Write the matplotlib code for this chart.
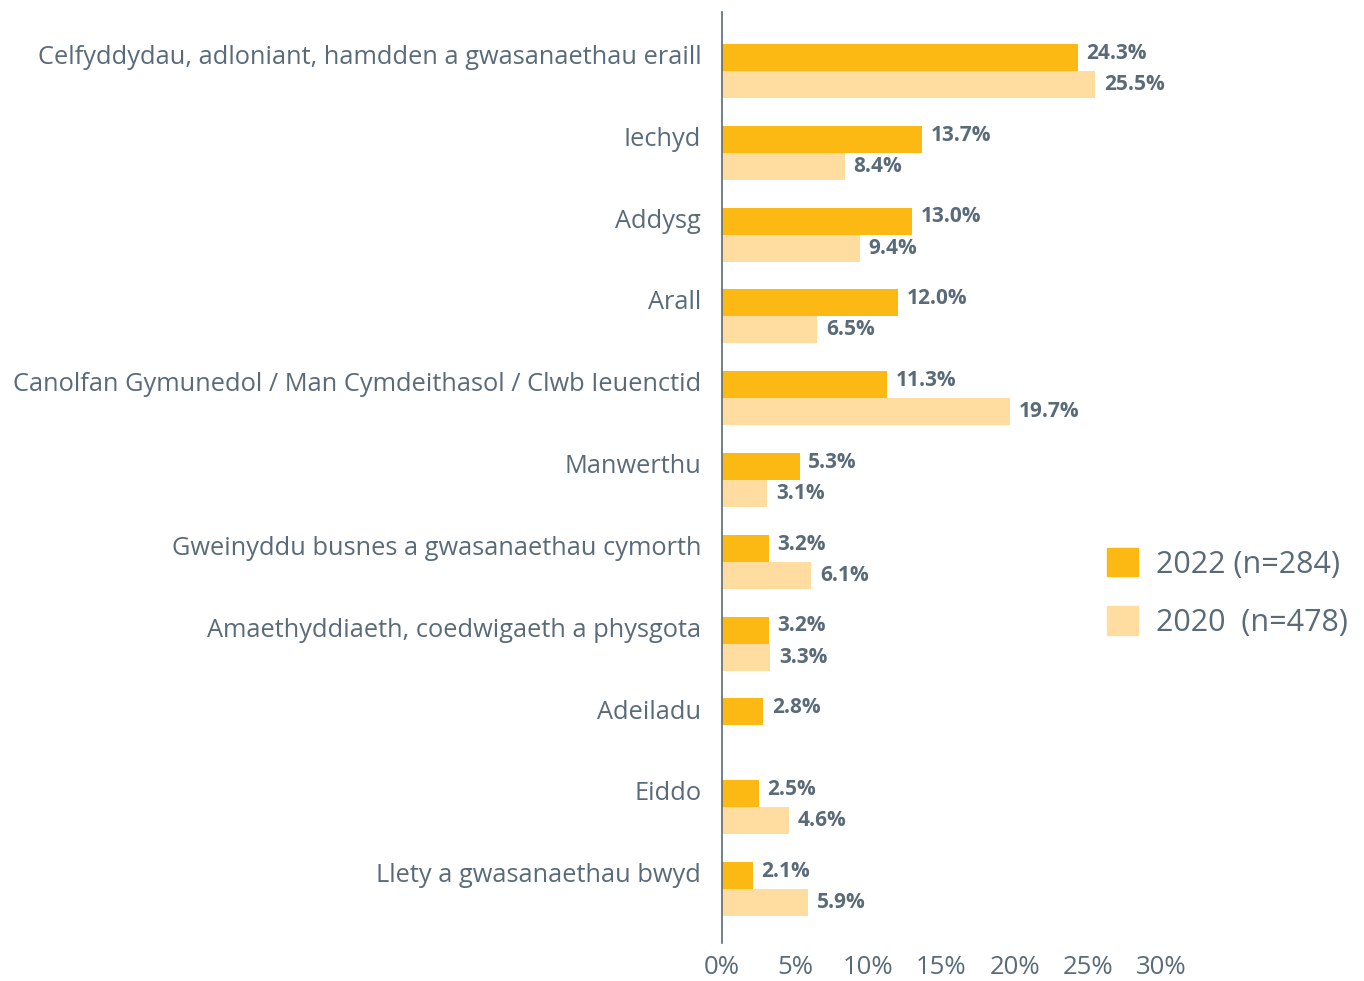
#!/usr/bin/env python3

import numpy as np
import matplotlib.pyplot as plt
from matplotlib.patches import Patch

# ----------------------------------------------------------
# data
# ----------------------------------------------------------
categories = [
    "Celfyddydau, adloniant, hamdden a gwasanaethau eraill",
    "Iechyd",
    "Addysg",
    "Arall",
    "Canolfan Gymunedol / Man Cymdeithasol / Clwb Ieuenctid",
    "Manwerthu",
    "Gweinyddu busnes a gwasanaethau cymorth",
    "Amaethyddiaeth, coedwigaeth a physgota",
    "Adeiladu",
    "Eiddo",
    "Llety a gwasanaethau bwyd",
]
vals_2022 = [24.3, 13.7, 13.0, 12.0, 11.3, 5.3, 3.2, 3.2, 2.8, 2.5, 2.1]
vals_2020 = [25.5, 8.4, 9.4, 6.5, 19.7, 3.1, 6.1, 3.3, None, 4.6, 5.9]
series_names = ["2022 (n=284)", "2020  (n=478)"]
xticks = [0, 5, 10, 15, 20, 25, 30]

C_2022 = "#FDB913"
C_2020 = "#FFDDA0"
TXT = "#596B78"

plt.rcParams["font.family"] = ["Open Sans", "DejaVu Sans"]

fig = plt.figure(figsize=(13.64, 9.81), dpi=100)
ax = fig.add_axes([722 / 1364, 1 - 943 / 981, (1161 - 722) / 1364, (943 - 12) / 981])

y = np.arange(len(categories))
h = 0.33

for i in range(len(categories)):
    v1 = vals_2022[i]
    ax.barh(y[i] - h / 2, v1, height=h, color=C_2022)
    ax.text(v1 + 0.6, y[i] - h / 2 - 0.05, f"{v1:.1f}%", va="center", ha="left",
            fontsize=15, fontweight="bold", color=TXT)
    v2 = vals_2020[i]
    if v2 is not None:
        ax.barh(y[i] + h / 2, v2, height=h, color=C_2020)
        ax.text(v2 + 0.6, y[i] + h / 2, f"{v2:.1f}%", va="center", ha="left",
                fontsize=15, fontweight="bold", color=TXT)

ax.set_xlim(0, 30)
ax.set_ylim(10.66, -0.72)

ax.set_yticks(y - 0.2)
ax.set_yticklabels(categories, fontsize=18.3, color=TXT)
ax.tick_params(axis="y", length=0, pad=15)

ax.set_xticks(xticks)
ax.set_xticklabels([f"{t}%" for t in xticks], fontsize=18.5, color=TXT)
ax.tick_params(axis="x", length=0, pad=9)

for s in ["top", "right", "bottom"]:
    ax.spines[s].set_visible(False)
ax.spines["left"].set_color(TXT)
ax.spines["left"].set_linewidth(1.2)

handles = [Patch(color=C_2022), Patch(color=C_2020)]
fig.legend(handles, series_names, loc="center left",
           bbox_to_anchor=(1092 / 1364, 1 - 593 / 981),
           frameon=False, fontsize=22, labelcolor=TXT, borderpad=0,
           handlelength=1.0, handleheight=1.05, handletextpad=0.6,
           labelspacing=0.88)

fig.savefig("out.png", dpi=100)
